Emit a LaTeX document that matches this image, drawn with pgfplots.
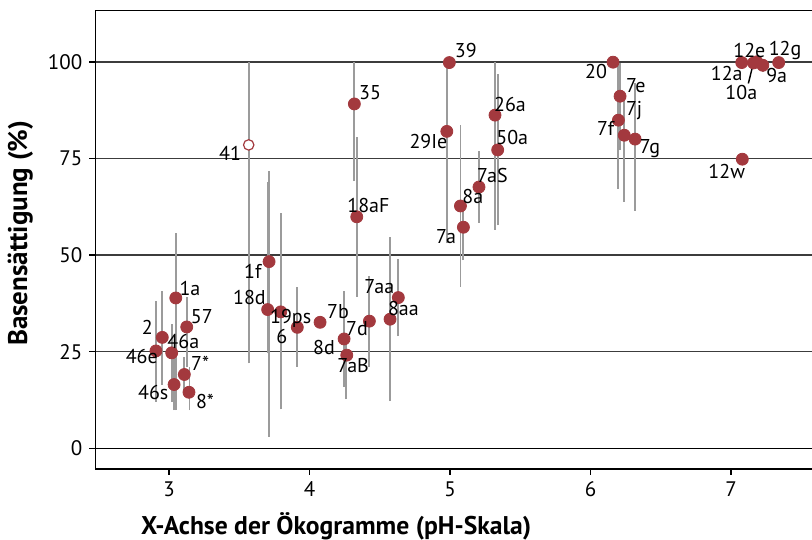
\documentclass[border=0pt]{standalone}
\usepackage{fontspec}
\setmainfont{PT Sans}
\usepackage{pgfplots}
\pgfplotsset{compat=1.18}

\definecolor{dotred}{RGB}{163,57,62}
\definecolor{bargray}{RGB}{155,155,155}
\definecolor{gridgray}{RGB}{60,60,60}

\begin{document}
\begin{tikzpicture}
\begin{axis}[
    scale only axis,
    width=358.3pt, height=229.2pt,
    xmin=2.476, xmax=7.576,
    ymin=-5.3, ymax=113.3,
    axis x line*=box, axis y line*=left,
    xtick={3,4,5,6,7}, ytick={25,50,75,100},
    extra y ticks={0},
    extra y tick style={grid style={black, line width=0.8pt}},
    xtick pos=lower, ytick pos=left,
    tick align=outside, major tick length=3pt,
    ymajorgrids, grid style={gridgray, line width=0.7pt},
    axis line style={black, line width=0.8pt},
    tick style={black, line width=0.8pt},
    /pgf/number format/assume math mode=true,
    tick label style={font=\fontsize{10.5}{12}\selectfont},
    xlabel={X-Achse der Ökogramme (pH-Skala)},
    ylabel={Basensättigung (\%)},
    xlabel style={at={(axis description cs:0.336,-0.1265)}, anchor=center,
        font=\fontsize{12.8}{14}\selectfont\bfseries},
    ylabel style={at={(axis description cs:-0.1047,0.514)}, anchor=center,
        font=\fontsize{13.5}{15}\selectfont\bfseries},
    clip=false,
]

% range bars
\addplot[bargray, line width=0.9pt, unbounded coords=jump] coordinates {
    (2.907,12.1) (2.907,38.2) (nan,nan)
    (2.948,16.4) (2.948,40.8) (nan,nan)
    (3.019,12.1) (3.019,32.1) (nan,nan)
    (3.036,9.9) (3.036,26.0) (nan,nan)
    (3.048,9.9) (3.048,55.6) (nan,nan)
    (3.107,13.8) (3.107,23.7) (nan,nan)
    (3.126,21.1) (3.126,39.2) (nan,nan)
    (3.145,9.9) (3.145,21.0) (nan,nan)
    (3.567,22.0) (3.567,100.0) (nan,nan)
    (3.707,24.6) (3.707,68.9) (nan,nan)
    (3.712,3.0) (3.712,71.8) (nan,nan)
    (3.795,10.1) (3.795,60.8) (nan,nan)
    (3.913,21.1) (3.913,41.8) (nan,nan)
    (4.246,15.9) (4.246,40.8) (nan,nan)
    (4.260,12.7) (4.260,28.0) (nan,nan)
    (4.426,21.1) (4.426,44.6) (nan,nan)
    (4.573,12.2) (4.573,54.6) (nan,nan)
    (4.632,29.0) (4.632,48.9) (nan,nan)
    (4.319,69.1) (4.319,100.0) (nan,nan)
    (4.336,39.2) (4.336,80.6) (nan,nan)
    (4.977,53.0) (4.977,99.6) (nan,nan)
    (5.074,41.8) (5.074,83.6) (nan,nan)
    (5.095,48.7) (5.095,64.0) (nan,nan)
    (5.206,58.3) (5.206,77.0) (nan,nan)
    (5.320,56.5) (5.320,100.0) (nan,nan)
    (5.339,57.7) (5.339,96.8) (nan,nan)
    (6.198,67.2) (6.198,99.6) (nan,nan)
    (6.210,77.1) (6.210,99.6) (nan,nan)
    (6.240,63.8) (6.240,92.1) (nan,nan)
    (6.317,61.4) (6.317,94.5) (nan,nan)
    (7.226,97.3) (7.226,100.2)
};

% leader line for 10a
\addplot[black, line width=0.7pt] coordinates {(7.158,99.5) (7.123,94.4)};

% sites
\addplot[only marks, mark=*, mark size=3pt, mark options={fill=dotred, draw=dotred}] coordinates {
    (2.907,25.2) (2.952,28.7) (3.019,24.7) (3.036,16.5) (3.048,38.9)
    (3.109,19.1) (3.126,31.4) (3.142,14.5)
    (3.712,48.3) (3.702,35.9) (3.795,35.3) (3.913,31.3) (4.075,32.6)
    (4.246,28.3) (4.265,24.1) (4.426,32.9) (4.573,33.4) (4.632,39.0)
    (4.319,89.1) (4.336,59.9)
    (4.977,82.0) (4.995,99.8) (5.074,62.7) (5.095,57.2) (5.206,67.6)
    (5.320,86.2) (5.339,77.2)
    (6.160,99.9) (6.198,84.9) (6.210,91.1) (6.240,81.0) (6.317,80.0)
    (7.076,99.8) (7.160,99.7) (7.183,100.0) (7.226,99.1) (7.339,99.8)
    (7.080,74.8)
};
% site 41 (open)
\addplot[only marks, mark=*, mark size=2.6pt, mark options={fill=white, draw=dotred, line width=0.6pt}] coordinates {(3.567,78.5)};

% site labels
\addplot[only marks, mark=*, mark options={opacity=0},
    nodes near coords, point meta=explicit symbolic,
    nodes near coords style={anchor=center, inner sep=0pt, text=black, opacity=1, font=\fontsize{10}{12}\selectfont}]
    table[meta=lab] {
x y lab
3.434 76.3 41
3.149 41.4 1a
3.233 34.0 57
2.846 31.3 2
3.102 27.6 46a
2.806 23.7 46e
3.221 22.0 7*
2.888 14.4 46s
3.256 12.1 8*
3.596 45.8 1f
3.572 38.9 18d
3.866 33.6 19ps
3.802 29.0 6
4.103 26.2 8d
4.203 35.5 7b
4.338 30.9 7d
4.310 21.3 7aB
4.497 41.8 7aa
4.668 36.2 8aa
4.419 62.9 18aF
4.431 92.1 35
5.112 102.8 39
4.846 79.3 29Ie
5.427 89.0 26a
5.443 80.3 50a
5.301 70.5 7aS
5.162 65.2 8a
4.972 54.7 7a
6.039 97.6 20
6.322 93.9 7e
6.310 87.5 7j
6.108 82.8 7f
6.423 77.6 7g
7.130 103.0 12e
7.384 103.0 12g
6.969 97.0 12a
7.325 96.5 9a
7.073 92.0 10a
6.969 71.7 12w
};
\end{axis}
\pgfresetboundingbox
\path ([xshift=-47.7pt,yshift=-35.2pt]current axis.south west) rectangle ([yshift=5.2pt]current axis.north east);
\end{tikzpicture}
\end{document}
